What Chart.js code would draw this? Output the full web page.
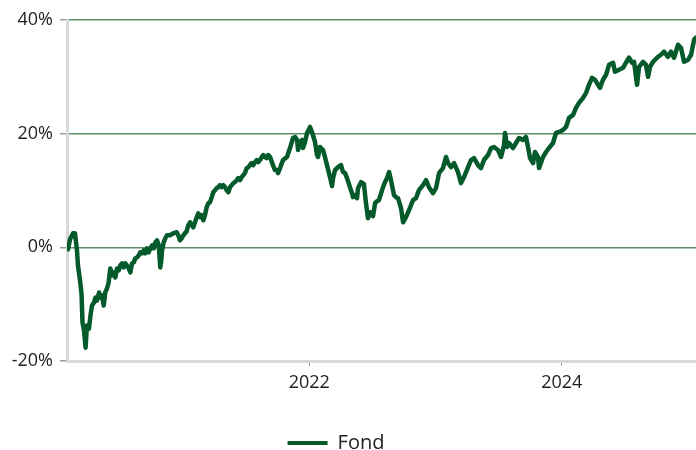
<!DOCTYPE html>
<html>
<head>
<meta charset="utf-8">
<script src="https://cdn.jsdelivr.net/npm/chart.js@4/dist/chart.umd.min.js"></script>
<style>
  html, body { margin: 0; padding: 0; background: #fff; }
  #wrap { width: 696px; height: 450px; }
</style>
</head>
<body>
<div id="wrap"><canvas id="chart"></canvas></div>
<script>
// decimal years of each sample
const years = [
  2020.088, 2020.104, 2020.128, 2020.143, 2020.159, 2020.167, 2020.183, 2020.195, 2020.203, 2020.215,
  2020.227, 2020.238, 2020.254, 2020.266, 2020.278, 2020.294, 2020.306, 2020.318, 2020.334, 2020.345,
  2020.357, 2020.371, 2020.383, 2020.397, 2020.410, 2020.423, 2020.437, 2020.450, 2020.463, 2020.476,
  2020.490, 2020.502, 2020.516, 2020.529, 2020.542, 2020.555, 2020.569, 2020.582, 2020.595, 2020.609,
  2020.621, 2020.635, 2020.648, 2020.661, 2020.674, 2020.688, 2020.700, 2020.714, 2020.727, 2020.740,
  2020.754, 2020.767, 2020.780, 2020.793, 2020.807, 2020.819, 2020.827, 2020.833, 2020.846, 2020.859,
  2020.872, 2020.896, 2020.922, 2020.949, 2020.962, 2020.975, 2020.989, 2021.002, 2021.015, 2021.028,
  2021.041, 2021.055, 2021.068, 2021.081, 2021.094, 2021.108, 2021.120, 2021.134, 2021.147, 2021.160,
  2021.173, 2021.187, 2021.200, 2021.213, 2021.227, 2021.239, 2021.253, 2021.266, 2021.279, 2021.292,
  2021.306, 2021.319, 2021.332, 2021.345, 2021.358, 2021.372, 2021.385, 2021.398, 2021.411, 2021.425,
  2021.437, 2021.451, 2021.464, 2021.477, 2021.490, 2021.504, 2021.517, 2021.530, 2021.544, 2021.556,
  2021.570, 2021.583, 2021.596, 2021.609, 2021.623, 2021.636, 2021.649, 2021.662, 2021.675, 2021.689,
  2021.712, 2021.728, 2021.744, 2021.752, 2021.768, 2021.792, 2021.823, 2021.847, 2021.871, 2021.887,
  2021.903, 2021.911, 2021.927, 2021.942, 2021.950, 2021.966, 2021.982, 2022.006, 2022.021, 2022.045,
  2022.061, 2022.069, 2022.085, 2022.109, 2022.124, 2022.140, 2022.164, 2022.180, 2022.188, 2022.204,
  2022.227, 2022.251, 2022.267, 2022.283, 2022.299, 2022.322, 2022.338, 2022.346, 2022.362, 2022.378,
  2022.386, 2022.410, 2022.433, 2022.449, 2022.465, 2022.481, 2022.497, 2022.505, 2022.521, 2022.536,
  2022.552, 2022.584, 2022.600, 2022.616, 2022.632, 2022.647, 2022.671, 2022.687, 2022.703, 2022.727,
  2022.743, 2022.766, 2022.790, 2022.822, 2022.845, 2022.869, 2022.901, 2022.925, 2022.948, 2022.980,
  2023.004, 2023.028, 2023.059, 2023.083, 2023.099, 2023.123, 2023.147, 2023.178, 2023.202, 2023.226,
  2023.258, 2023.281, 2023.305, 2023.337, 2023.360, 2023.384, 2023.416, 2023.440, 2023.463, 2023.495,
  2023.519, 2023.543, 2023.551, 2023.567, 2023.582, 2023.614, 2023.638, 2023.662, 2023.693, 2023.717,
  2023.733, 2023.749, 2023.773, 2023.788, 2023.812, 2023.820, 2023.852, 2023.876, 2023.899, 2023.931,
  2023.955, 2023.979, 2024.010, 2024.034, 2024.058, 2024.090, 2024.113, 2024.137, 2024.169, 2024.193,
  2024.216, 2024.240, 2024.264, 2024.288, 2024.303, 2024.327, 2024.351, 2024.375, 2024.407, 2024.422,
  2024.454, 2024.486, 2024.509, 2024.533, 2024.557, 2024.573, 2024.597, 2024.613, 2024.644, 2024.668,
  2024.684, 2024.700, 2024.724, 2024.763, 2024.787, 2024.811, 2024.842, 2024.866, 2024.890, 2024.922,
  2024.945, 2024.969, 2025.001, 2025.025, 2025.049, 2025.064
]

// cumulative return of the fund, in %
const fond = [
  -0.35, 1.41, 2.47, 2.47, -0.53, -3.18, -5.82, -8.12, -13.24, -14.65,
  -17.65, -13.77, -14.30, -12.00, -10.24, -9.71, -8.83, -9.36, -7.94, -8.83,
  -8.47, -10.24, -7.94, -7.24, -6.18, -3.71, -4.94, -4.41, -5.30, -3.71,
  -4.06, -3.18, -2.82, -3.53, -2.82, -3.18, -3.71, -4.41, -2.82, -2.65,
  -1.94, -1.77, -1.41, -0.88, -1.06, -0.53, -1.06, -0.18, -0.88, -0.18,
  0.35, -0.18, 0.88, 1.24, 0.35, -3.53, -2.29, -0.53, 0.88, 1.59,
  2.12, 2.12, 2.47, 2.65, 2.12, 1.24, 1.59, 2.12, 2.47, 2.82,
  3.88, 4.41, 3.88, 3.53, 4.41, 5.30, 6.00, 5.30, 5.65, 4.77,
  5.65, 7.06, 7.77, 7.94, 8.83, 9.71, 10.06, 10.41, 10.59, 10.94,
  10.59, 10.94, 10.59, 10.06, 9.71, 10.59, 10.94, 11.30, 11.47, 11.83,
  12.18, 11.83, 12.36, 12.71, 13.06, 13.94, 14.12, 14.47, 14.83, 14.47,
  15.00, 15.36, 15.00, 15.36, 15.89, 16.24, 15.89, 15.71, 16.24, 15.89,
  14.47, 13.59, 13.59, 13.06, 13.94, 15.36, 15.89, 17.47, 19.24, 19.42,
  18.89, 17.12, 18.53, 18.89, 17.47, 18.53, 20.12, 21.18, 20.30, 18.53,
  16.24, 15.89, 17.65, 17.12, 15.89, 14.47, 12.36, 10.77, 12.18, 13.59,
  14.12, 14.47, 13.24, 13.06, 12.18, 10.59, 9.53, 8.83, 9.18, 8.65,
  10.41, 11.47, 11.12, 7.77, 5.12, 6.18, 5.65, 5.47, 7.77, 8.12,
  8.30, 10.59, 11.47, 12.18, 13.24, 11.83, 9.18, 8.83, 8.65, 6.88,
  4.41, 5.30, 6.53, 8.30, 8.65, 10.06, 10.94, 11.83, 10.59, 9.53,
  10.41, 13.06, 13.94, 15.89, 14.83, 14.12, 14.83, 13.24, 11.30, 12.36,
  14.12, 15.36, 15.71, 14.47, 13.94, 15.36, 16.24, 17.47, 17.65, 17.12,
  15.89, 18.00, 20.12, 17.65, 18.36, 17.47, 18.36, 19.24, 18.89, 19.42,
  17.65, 15.71, 14.83, 16.77, 15.89, 13.94, 15.89, 16.77, 17.47, 18.36,
  20.12, 20.30, 20.65, 21.18, 22.77, 23.30, 24.54, 25.42, 26.30, 27.18,
  28.59, 29.83, 29.48, 28.59, 28.06, 29.48, 30.36, 32.12, 32.48, 30.89,
  31.24, 31.59, 32.48, 33.36, 32.48, 32.65, 28.59, 31.77, 32.65, 32.12,
  30.00, 31.77, 32.65, 33.53, 33.89, 34.42, 33.53, 34.42, 33.36, 35.65,
  35.12, 32.65, 33.00, 33.89, 36.54, 36.89
]

const seriesLabel = 'Fond'
const xTicks = [2022, 2024]
const yTicks = [-20, 0, 20, 40]

const lineColor = '#045a2b'
const gridColor = '#5c8e69'
const axisColor = '#d9d9d9'
const tickColor = '#9a9a9a'

Chart.defaults.font.family = '"Open Sans", sans-serif'
Chart.defaults.font.size = 18
Chart.defaults.color = '#222'

// the legend in the original sits a little left of the canvas centre
const legendShift = {
  id: 'legendShift',
  afterLayout(chart) {
    chart.legend.left -= 12
    chart.legend.right -= 12
  }
}

new Chart(document.getElementById('chart'), {
  type: 'line',
  data: {
    datasets: [{
      label: seriesLabel,
      data: years.map((yr, i) => ({ x: yr, y: fond[i] })),
      borderColor: lineColor,
      backgroundColor: lineColor,
      borderWidth: 4.5,
      borderJoinStyle: 'round',
      borderCapStyle: 'round',
      pointRadius: 0,
      tension: 0,
      fill: false
    }]
  },
  options: {
    responsive: true,
    maintainAspectRatio: false,
    animation: false,
    layout: { padding: { top: 20, left: 0, right: 0, bottom: -13 } },
    plugins: {
      tooltip: { enabled: false },
      legend: {
        position: 'bottom',
        labels: {
          boxWidth: 40,
          boxHeight: 4,
          padding: 0,
          font: { size: 20 },
          generateLabels: chart =>
            Chart.defaults.plugins.legend.labels.generateLabels(chart)
              .map(l => ({ ...l, lineWidth: 0, fillStyle: lineColor }))
        }
      }
    },
    scales: {
      x: {
        type: 'linear',
        min: 2020.08,
        max: 2025.064,
        afterBuildTicks: s => { s.ticks = xTicks.map(v => ({ value: v })) },
        afterFit: s => { s.height = 72 },
        border: { color: axisColor, width: 3 },
        grid: { drawOnChartArea: false, tickLength: 5, tickColor: tickColor },
        ticks: { padding: 6, maxRotation: 0, callback: v => String(v) }
      },
      y: {
        min: -20,
        max: 40,
        afterBuildTicks: s => { s.ticks = yTicks.map(v => ({ value: v })) },
        afterFit: s => { s.width = 67 },
        border: { color: axisColor, width: 3 },
        grid: { color: gridColor, lineWidth: 1.5, tickLength: 7, tickColor: tickColor },
        ticks: { padding: 7, callback: v => v + '%' }
      }
    }
  },
  plugins: [legendShift]
})
</script>
</body>
</html>
